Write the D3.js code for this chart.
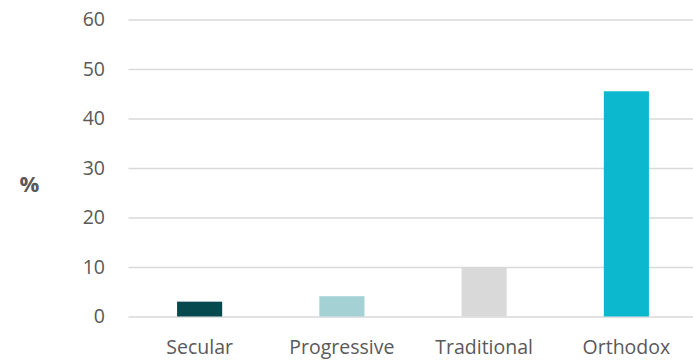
<!DOCTYPE html>
<html>
<head>
<meta charset="utf-8">
<script src="https://cdn.jsdelivr.net/npm/d3@7"></script>
<style>
  html, body { margin: 0; padding: 0; background: #ffffff; }
  svg text { font-family: "Open Sans", "Noto Sans", sans-serif; }
</style>
</head>
<body>
<svg id="chart" width="693" height="362"></svg>
<script>
// Share by group, in percent
const categories = ["Secular", "Progressive", "Traditional", "Orthodox"];
const values = [3, 4.1, 10, 45.5];
const barColors = ["#064A50", "#A4D1D3", "#D9D9D9", "#0BB8CE"];
const yTicks = [0, 10, 20, 30, 40, 50, 60];
const yLabel = "%";

const svg = d3.select("#chart");
const plot = { left: 128.5, right: 697.5, top: 19.5, bottom: 316.5 };

const x = d3.scaleBand()
  .domain(categories)
  .range([plot.left, plot.right])
  .paddingInner(0.683)
  .paddingOuter(0.3415);

const y = d3.scaleLinear()
  .domain([0, 60])
  .range([plot.bottom, plot.top]);

// Horizontal gridlines with tick labels
const yAxis = d3.axisLeft(y)
  .tickValues(yTicks)
  .tickSize(-(plot.right - plot.left))
  .tickPadding(23.5);

const gy = svg.append("g")
  .attr("transform", `translate(${plot.left},0)`)
  .call(yAxis);
gy.select(".domain").remove();
gy.selectAll(".tick line")
  .attr("stroke", "#D9D9D9")
  .attr("stroke-width", 1.6);
gy.selectAll(".tick text")
  .attr("fill", "#595959")
  .attr("font-size", "19.5px");

// Bars
svg.append("g")
  .selectAll("rect")
  .data(categories)
  .join("rect")
  .attr("x", d => x(d))
  .attr("width", x.bandwidth())
  .attr("y", (d, i) => y(values[i]))
  .attr("height", (d, i) => y(0) - y(values[i]))
  .attr("fill", (d, i) => barColors[i]);

// Category labels
const xAxis = d3.axisBottom(x).tickSize(0).tickPadding(24);
const gx = svg.append("g")
  .attr("transform", `translate(0,${plot.bottom})`)
  .call(xAxis);
gx.select(".domain").remove();
gx.selectAll(".tick text")
  .attr("fill", "#595959")
  .attr("font-size", "19.5px");

// Axis title
svg.append("text")
  .attr("x", 29.5)
  .attr("y", 192)
  .attr("text-anchor", "middle")
  .attr("fill", "#595959")
  .attr("font-size", "22px")
  .attr("font-weight", "bold")
  .text(yLabel);
</script>
</body>
</html>
